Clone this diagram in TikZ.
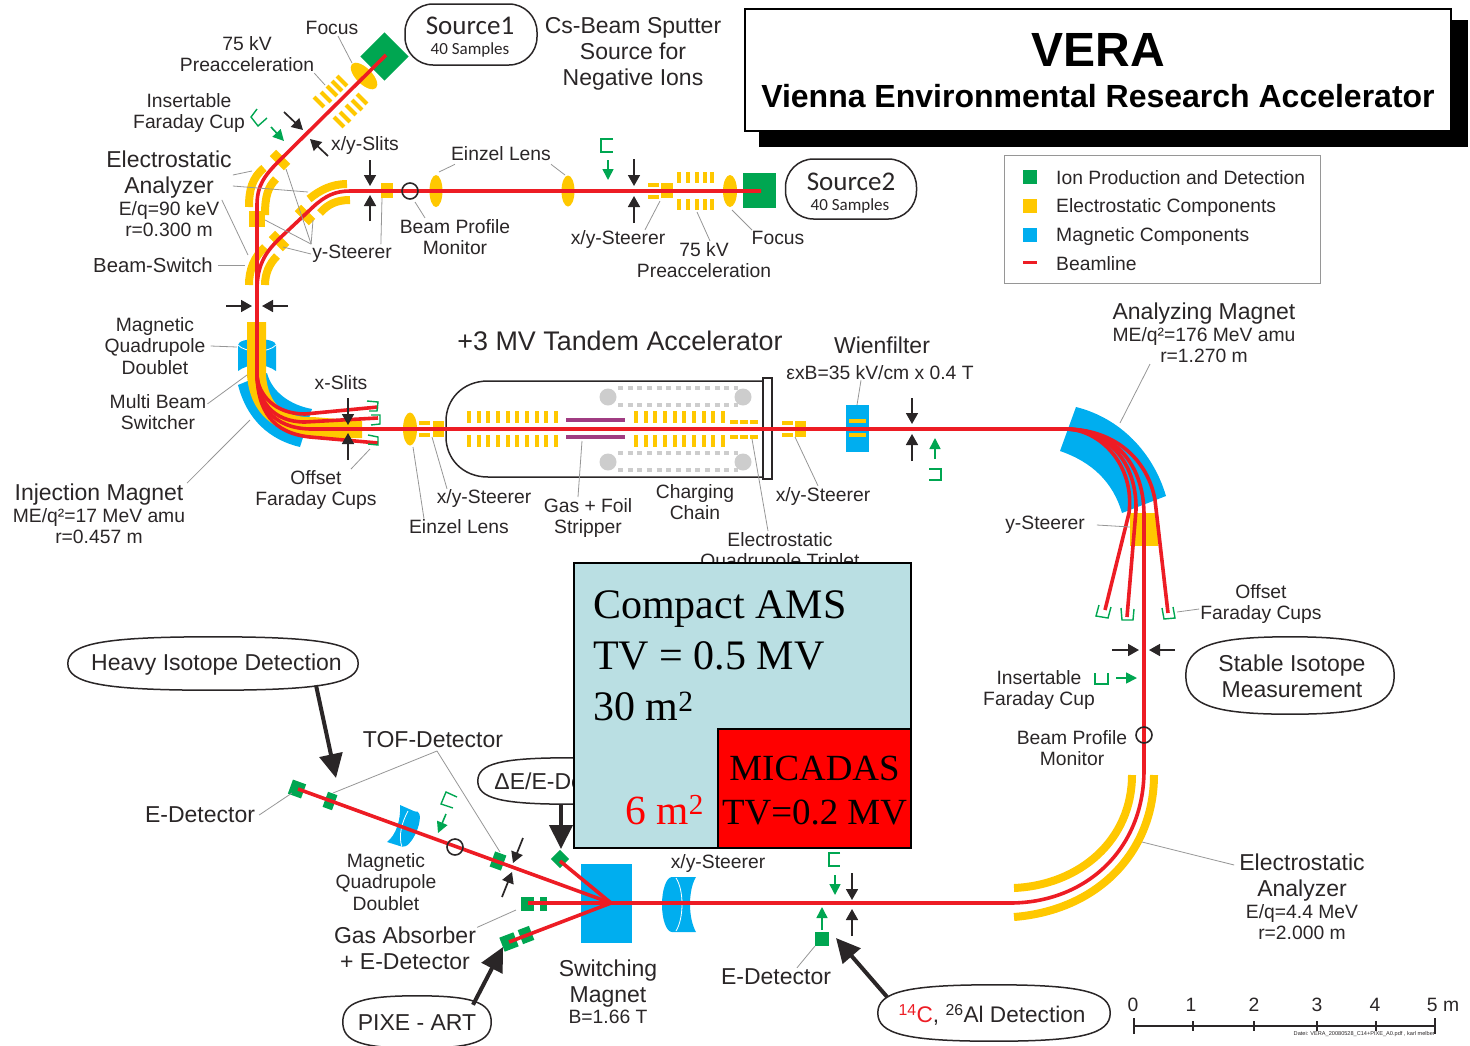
\documentclass[tikz,border=0pt]{standalone}
\usepackage{fontspec}
\setmainfont{Liberation Sans}
\newfontfamily\amsfont{Liberation Serif}
\newfontfamily\srcfont{Carlito}
\usepackage{xcolor}
\usetikzlibrary{shapes.geometric,arrows.meta,positioning,calc}
\definecolor{inkdark}{RGB}{42,38,39}
\definecolor{beamred}{RGB}{237,28,36}
\definecolor{elecyel}{RGB}{255,200,0}
\definecolor{magblue}{RGB}{0,174,239}
\definecolor{detgreen}{RGB}{0,166,81}
\definecolor{strippurple}{RGB}{160,60,130}
\definecolor{chaingray}{RGB}{205,205,205}
\definecolor{leadgray}{RGB}{150,150,150}
\definecolor{amsteal}{RGB}{186,223,227}
\tikzset{
  lab/.style = {font=\fontsize{19.3}{21.6}\selectfont, text=inkdark, align=center, inner sep=1pt},
  biglab/.style = {font=\fontsize{23}{26}\selectfont, text=inkdark, align=center, inner sep=1pt},
  ovalbox/.style = {rectangle, inner sep=0pt},
  ovalline/.style = {draw=inkdark, line width=1.5pt, fill=white},
  srcbox/.style = {rectangle, draw=inkdark, line width=1.5pt, fill=white, rounded corners=28pt, inner sep=0pt},
  srcname/.style = {font=\srcfont\fontsize{27}{27}\selectfont, text=inkdark, inner sep=0pt},
  srcsmall/.style = {font=\srcfont\fontsize{17}{17}\selectfont, text=inkdark, inner sep=0pt},
  leader/.style = {leadgray, line width=0.8pt},
  beam/.style = {beamred, line width=3.6pt},
  ribbon/.style = {elecyel, line width=8pt},
  slit/.style = {inkdark, line width=1.7pt, -{Triangle[length=11pt,width=12pt]}},
  cuparrow/.style = {detgreen, line width=1.6pt, -{Triangle[length=11pt,width=11pt]}},
  bigarrow/.style = {inkdark, line width=4pt, -{Triangle[length=24pt,width=23pt]}},
  cup/.style = {detgreen, line width=1.4pt},
  tank/.style = {inkdark, line width=1.5pt},
  chain/.style = {chaingray, line width=3.4pt, dash pattern=on 5pt off 4.65pt},
  ylens/.style 2 args = {ellipse, fill=elecyel, inner sep=0pt, minimum width=#1, minimum height=#2},
  ybar/.style 2 args = {rectangle, fill=elecyel, inner sep=0pt, minimum width=#1, minimum height=#2},
  gbar/.style 2 args = {rectangle, fill=detgreen, inner sep=0pt, minimum width=#1, minimum height=#2},
  profile/.style = {circle, draw=inkdark, line width=1.6pt, minimum size=16pt, inner sep=0pt}
}
% flattened oval round an empty named box
\newcommand{\ovalround}[1]{
  \draw[ovalline] (#1.west)
    .. controls ($(#1.west)!0.75!(#1.north west)$) and ($(#1.north)!0.75!(#1.north west)$) .. (#1.north)
    .. controls ($(#1.north)!0.75!(#1.north east)$) and ($(#1.east)!0.75!(#1.north east)$) .. (#1.east)
    .. controls ($(#1.east)!0.75!(#1.south east)$) and ($(#1.south)!0.75!(#1.south east)$) .. (#1.south)
    .. controls ($(#1.south)!0.75!(#1.south west)$) and ($(#1.west)!0.75!(#1.south west)$) .. (#1.west) -- cycle;
}
\begin{document}
\begin{tikzpicture}[x=1pt, y=-1pt]
\useasboundingbox (0,0) rectangle (1470,1045);

% title and legend
\fill[black] (759,20) rectangle (1468,147);
\node[rectangle, draw=black, line width=2pt, fill=white, minimum width=706pt, minimum height=122pt,
  inner sep=0pt] (titlebox) at (1098,70) {};
\node[font=\bfseries\fontsize{48}{48}\selectfont, inner sep=0pt] (titleA) at (1098,50) {VERA};
\node[font=\bfseries\fontsize{32}{32}\selectfont, inner sep=0pt] (titleB) at (1098,96) {Vienna Environmental Research Accelerator};

\draw[leadgray, line width=1pt] (1004,155) rectangle (1320,283);
\fill[detgreen] (1023,170) rectangle (1037,184);
\fill[elecyel] (1023,199) rectangle (1037,213);
\fill[magblue] (1023,228) rectangle (1037,242);
\fill[beamred] (1023,261) rectangle (1037,264);
\node[lab, anchor=west, inner sep=0pt] (legA) at (1056,178) {Ion Production and Detection};
\node[lab, anchor=west, inner sep=0pt] (legB) at (1056,208) {Electrostatic Components};
\node[lab, anchor=west, inner sep=0pt] (legC) at (1056,237) {Magnetic Components};
\node[lab, anchor=west, inner sep=0pt] (legD) at (1056,264) {Beamline};

% source 1 branch
\node[gbar={34}{34}, rotate=45] (srcA) at (384.5,56.5) {};
\node[ylens={34}{16}, rotate=-45] (focA) at (364,76) {};
\foreach \xp/\yp [count=\i] in {319/102,326/97,332/91,337/86,342/81}
  \node[ybar={14}{4}, rotate=-45] (pacA\i) at (\xp,\yp) {};
\foreach \xp/\yp [count=\i] in {339/122,345/117,351/110,357/105,362/99}
  \node[ybar={14}{4}, rotate=-45] (pacB\i) at (\xp,\yp) {};
\node[ybar={20}{9}, rotate=-45] (stA) at (280,160) {};
\node[ybar={16}{16}] (stB) at (257,219) {};
\node[ybar={20}{9}, rotate=-45] (stC) at (305,215) {};
\node[ybar={20}{9}, rotate=-45] (stD) at (279,241) {};
\draw[ribbon] (264,168) .. controls (252,178) and (249,190) .. (249,207);
\draw[ribbon] (276,179) .. controls (268,187) and (265,196) .. (265,215);
\draw[ribbon] (265,247) .. controls (254,257) and (249,270) .. (249,285);
\draw[ribbon] (277,256) .. controls (269,264) and (265,274) .. (265,285);
\draw[ribbon] (347,184) .. controls (332,184) and (320,190) .. (309,199);
\draw[ribbon] (350,200) .. controls (337,200) and (328,204) .. (320,213);

% source 2 branch
\node[ybar={12}{15}] (stE) at (387,190) {};
\node[ylens={13}{32}] (einzA) at (436,191) {};
\node[ylens={13}{31}] (einzB) at (568,191) {};
\fill[elecyel] (648,183) rectangle (659,187);
\fill[elecyel] (648,195) rectangle (659,199);
\fill[elecyel] (661,183) rectangle (673,198);
\foreach \xp in {679,688,697,705,712} {
  \fill[elecyel] (\xp-1.8,172) rectangle +(3.6,11);
  \fill[elecyel] (\xp-1.8,199) rectangle +(3.6,11);
}
\node[ylens={14}{32}] (focB) at (730,191) {};
\node[gbar={33}{35}] (srcB) at (759.5,190.5) {};

% injection magnet
\fill[magblue] (238,385) .. controls (247,420) and (270,440) .. (300,447) -- (312,409)
  .. controls (290,405) and (272,392) .. (267,373) -- cycle;
\fill[magblue] (238,345) .. controls (238,337) and (276,337) .. (276,345) -- (276,371)
  .. controls (265,363) and (249,363) .. (238,371) -- cycle;
\draw[white, line width=0.8pt] (238,345) .. controls (245,353) and (269,353) .. (276,345);
\fill[elecyel] (247,322) -- (247,375) .. controls (250,415) and (275,432) .. (313,439) -- (362,438)
  -- (362,421) -- (313,417) .. controls (285,418) and (268,405) .. (266,375) -- (266,322) -- cycle;

% tandem
\draw[tank] (763,381) -- (488,381) .. controls (462,381) and (446,400) .. (446,421) -- (446,437)
  .. controls (446,458) and (462,477) .. (488,477) -- (763,477);
\draw[tank, fill=white] (763,378) rectangle (772,479);
\foreach \yp in {397,462} {
  \fill[chaingray] (608,\yp) circle (8.5);
  \fill[chaingray] (743,\yp) circle (8.5);
}
\foreach \yp in {388,405,453,470}
  \draw[chain] (618,\yp) -- (738,\yp);
\foreach \i in {0,...,9} {
  \fill[elecyel] ({467+9.65*\i},411) rectangle +(4,12);
  \fill[elecyel] ({467+9.65*\i},435) rectangle +(4,12);
  \fill[elecyel] ({634+9.65*\i},411) rectangle +(4,12);
  \fill[elecyel] ({634+9.65*\i},435) rectangle +(4,12);
}
\fill[strippurple] (566,418) rectangle (625,422);
\fill[strippurple] (566,435) rectangle (625,439);
\foreach \xp in {730,740,750} {
  \fill[elecyel] (\xp,420) rectangle +(8,4);
  \fill[elecyel] (\xp,435) rectangle +(8,4);
}
\node[ylens={14}{33}] (einzC) at (410,429) {};
\foreach \xp/\xq in {419/433,782/795} {
  \fill[elecyel] (\xp,421) rectangle +(11,4);
  \fill[elecyel] (\xp,433) rectangle +(11,4);
  \fill[elecyel] (\xq,421) rectangle +(11,16);
}
\fill[magblue] (846,405) rectangle (869,452);
\fill[elecyel] (849,419) rectangle (866,423);
\fill[elecyel] (849,433) rectangle (866,437);

% high energy side
\fill[magblue] (1076,407) .. controls (1120,418) and (1153,452) .. (1166,496) -- (1122,513)
  .. controls (1113,482) and (1092,462) .. (1060,451) -- cycle;
\fill[elecyel] (1130,513) rectangle (1158,546);
\draw[ribbon] (1014,917) .. controls (1100,910) and (1154,850) .. (1154,775);
\draw[ribbon] (1014,888) .. controls (1080,885) and (1132,840) .. (1132,775);

% detector side
\fill[magblue] (672,877) -- (696,877) .. controls (688,890) and (688,918) .. (696,932) -- (672,932) -- cycle;
\node[ellipse, fill=magblue, inner sep=0pt, minimum width=20pt, minimum height=55pt] (quadB) at (672,904.5) {};
\draw[white, line width=0.8pt] (676,878) .. controls (684,890) and (684,918) .. (676,931);
\fill[magblue] (581,864) rectangle (632,943);
\fill[magblue] (400,805) .. controls (401,820) and (396,835) .. (387,842) -- (403,847) -- (416,812) -- cycle;
\node[ellipse, fill=magblue, inner sep=0pt, minimum width=38pt, minimum height=14pt, rotate=67] (quadC) at (410,829) {};
\draw[white, line width=0.8pt] (408,811) .. controls (402,822) and (398,836) .. (402,847);
\node[gbar={14}{15}, rotate=-20] (detA) at (297,789) {};
\node[gbar={10}{16}, rotate=-20] (detB) at (330,801) {};
\node[gbar={12}{16}, rotate=-20] (detC) at (498,861) {};
\node[gbar={13}{13}, rotate=45] (detD) at (560,859) {};
\node[gbar={13}{14}] (detE) at (527.5,904) {};
\node[gbar={7}{14}] (detF) at (543.5,904) {};
\node[gbar={15}{15}, rotate=21] (detG) at (509,942) {};
\node[gbar={12}{15}, rotate=21] (detH) at (526,935) {};
\node[gbar={14}{14}] (detI) at (822,939) {};

% beams
\draw[beam] (386,55) -- (280,160) .. controls (265,175) and (257,185) .. (257,205) -- (257,375);
\draw[beam] (761,191) -- (350,191) .. controls (335,191) and (325,196) .. (313,207) -- (280,238)
  .. controls (268,250) and (257,262) .. (257,290);
\draw[beam] (257,375) .. controls (258,395) and (275,414) .. (305,414) -- (378,407);
\draw[beam] (257,375) .. controls (258,400) and (272,422) .. (305,422) -- (378,418);
\draw[beam] (257,375) .. controls (258,410) and (272,433) .. (310,437) -- (378,443);
\draw[beam] (257,375) .. controls (258,405) and (272,428) .. (310,429) -- (1065,429);
\draw[beam] (1065,429) .. controls (1115,429) and (1148,460) .. (1155,500) -- (1168,613);
\draw[beam] (1065,429) .. controls (1105,429) and (1137,460) .. (1136,510) -- (1127,617);
\draw[beam] (1065,429) .. controls (1100,429) and (1135,465) .. (1129,513) -- (1105,610);
\draw[beam] (1065,429) .. controls (1110,429) and (1144,460) .. (1144,515) -- (1144,770)
  .. controls (1144,850) and (1085,903) .. (1010,903) -- (611,903);
\draw[beam] (298,789) -- (611,903);
\draw[beam] (560,861) -- (611,903);
\draw[beam] (528,903) -- (611,903);
\draw[beam] (509,942) -- (611,903);

% profile monitors
\node[profile] (bpmA) at (410,191) {};
\node[profile] (bpmB) at (1144,735) {};
\node[profile] (bpmC) at (455,847) {};

% slits and cups
\foreach \xa/\ya/\xb/\yb in {284/112/303/130, 328/156/310/139, 370/160/370/186, 370/221/370/195,
    634/159/634/186, 634/223/634/196, 226/306/252/306, 288/306/262/306, 348/398/348/425, 348/460/348/433,
    912/398/912/424, 912/461/912/434, 1112/650/1139/650, 1175/650/1149/650,
    523/838/513/863, 502/897/512/872, 852/873/852/900, 852/936/852/909}
  \draw[slit] (\xa,\ya) -- (\xb,\yb);
\foreach \xa/\ya/\xb/\yb in {271/127/284/141, 608/160/608/180, 935/459/935/438, 1116/678/1137/678,
    446/814/438/833, 835/875/835/895, 822/930/822/907}
  \draw[cuparrow] (\xa,\ya) -- (\xb,\yb);
\draw[cup] (257,109) -- (251,117) -- (258,126) -- (267,118);
\draw[cup] (613,139) -- (601,139) -- (601,152) -- (613,152);
\draw[cup] (367,401) -- (378,402) -- (377,411) -- (369,411);
\draw[cup] (371,415) -- (380,415) -- (380,424) -- (371,425);
\draw[cup] (368,435) -- (378,437) -- (378,445) -- (368,444);
\draw[cup] (929,469) -- (941,469) -- (941,480) -- (929,480);
\draw[cup] (1099,605) -- (1096,616) -- (1108,618) -- (1111,607);
\draw[cup] (1121,608) -- (1122,620) -- (1133,620) -- (1134,609);
\draw[cup] (1162,608) -- (1164,619) -- (1175,618) -- (1173,607);
\draw[cup] (1095,673) -- (1095,684) -- (1108,684) -- (1108,673);
\draw[cup] (457,797) -- (446,792) -- (441,804) -- (453,808);
\draw[cup] (840,853) -- (829,853) -- (829,866) -- (840,866);

% labels, upper part
\node[lab] (lbFocusA) at (332,28) {Focus};
\node[lab] (lbPreA) at (247,54) {75 kV\\ Preacceleration};
\node[lab] (lbCupA) at (189,113) {Insertable\\ Faraday Cup};
\node[biglab] (lbEsaA) at (169,175) {Electrostatic\\ Analyzer};
\node[lab, below=0pt of lbEsaA] (lbEsaB) {E/q=90 keV\\ r=0.300 m};
\node[lab] (lbSlitA) at (365,146) {x/y-Slits};
\node[lab] (lbEinzA) at (501,154) {Einzel Lens};
\node[lab] (lbBpmA) at (455,237) {Beam Profile\\ Monitor};
\node[lab] (lbYA) at (352,254) {y-Steerer};
\node[lab, font=\fontsize{20.3}{22}\selectfont] (lbSwitch) at (153,265) {Beam-Switch};
\node[lab] (lbXYA) at (618,240) {x/y-Steerer};
\node[lab] (lbPreB) at (704,260) {75 kV\\ Preacceleration};
\node[lab] (lbFocusB) at (778,238) {Focus};
\node[biglab] (lbCs) at (633,54) {Cs-Beam Sputter\\ Source for\\ Negative Ions};

% labels, middle part
\node[font=\fontsize{26.9}{26.9}\selectfont, text=inkdark, inner sep=1pt] (lbTandem) at (620,341) {+3 MV Tandem Accelerator};
\node[biglab] (lbWien) at (882,345) {Wienfilter};
\node[lab] (lbWienB) at (880,373) {εxB=35 kV/cm x 0.4 T};
\node[biglab] (lbAnaA) at (1204,314) {Analyzing Magnet};
\node[lab, below=0pt of lbAnaA] (lbAnaB) {ME/q²=176 MeV amu\\ r=1.270 m};
\node[lab] (lbQuadA) at (155,346) {Magnetic\\ Quadrupole\\ Doublet};
\node[lab] (lbMulti) at (158,412) {Multi Beam\\ Switcher};
\node[lab] (lbXSlit) at (341,383) {x-Slits};
\node[lab] (lbOffA) at (316,490) {Offset\\ Faraday Cups};
\node[biglab] (lbInjA) at (99,495) {Injection Magnet};
\node[lab, below=0pt of lbInjA] (lbInjB) {ME/q²=17 MeV amu\\ r=0.457 m};
\node[lab] (lbXYB) at (484,499) {x/y-Steerer};
\node[lab] (lbEinzC) at (459,527) {Einzel Lens};
\node[lab] (lbStrip) at (588,518) {Gas + Foil\\ Stripper};
\node[lab] (lbChain) at (695,502) {Charging\\ Chain};
\node[lab] (lbTrip) at (780,552) {Electrostatic\\ Quadrupole Triplet};
\node[lab] (lbXYC) at (823,496) {x/y-Steerer};
\node[lab] (lbYB) at (1045,525) {y-Steerer};
\node[lab] (lbOffB) at (1261,604) {Offset\\ Faraday Cups};
\node[lab] (lbCupB) at (1039,690) {Insertable\\ Faraday Cup};
\node[lab] (lbBpmB) at (1072,748) {Beam Profile\\ Monitor};

% labels, lower part
\node[biglab] (lbEDetA) at (200,815) {E-Detector};
\node[biglab] (lbTof) at (433,740) {TOF-Detector};
\node[lab] (lbQuadB) at (386,882) {Magnetic\\ Quadrupole\\ Doublet};
\node[biglab] (lbGas) at (405,948) {Gas Absorber\\ + E-Detector};
\node[biglab] (lbSwM) at (608,984) {Switching\\ Magnet};
\node[lab, below=0pt of lbSwM] (lbSwB) {B=1.66 T};
\node[lab] (lbXYD) at (718,863) {x/y-Steerer};
\node[biglab] (lbEDetB) at (776,977) {E-Detector};
\node[biglab] (lbEsaC) at (1302,878) {Electrostatic\\ Analyzer};
\node[lab, below=0pt of lbEsaC] (lbEsaD) {E/q=4.4 MeV\\ r=2.000 m};

% sources and ovals
\node[srcbox, minimum width=132pt, minimum height=61pt] (ovSrcA) at (471,34.5) {};
\node[srcname] (txSrcA) at (470,26) {Source1};
\node[srcsmall] (txSmpA) at (470,50) {40 Samples};
\node[srcbox, minimum width=131pt, minimum height=60pt] (ovSrcB) at (851,189) {};
\node[srcname] (txSrcB) at (851,182) {Source2};
\node[srcsmall] (txSmpB) at (850,206) {40 Samples};
\node[ovalbox, minimum width=290pt, minimum height=53pt] (ovHeavy) at (213,663.5) {};
\ovalround{ovHeavy}
\node[biglab] (txHeavy) at (216.5,665) {Heavy Isotope Detection};
\node[ovalbox, minimum width=208pt, minimum height=77pt] (ovStable) at (1290,675.5) {};
\ovalround{ovStable}
\node[biglab] (txStable) at (1292,676) {Stable Isotope\\ Measurement};
\node[ovalbox, minimum width=232pt, minimum height=56pt] (ovCarbon) at (994,1013) {};
\ovalround{ovCarbon}
\node[biglab, font=\fontsize{22.6}{26}\selectfont] (txCarbon) at (992,1015) {\textcolor{beamred}{\textsuperscript{14}C}, \textsuperscript{26}Al Detection};
\node[ovalbox, minimum width=148pt, minimum height=52pt] (ovPixe) at (417,1022) {};
\ovalround{ovPixe}
\node[biglab] (txPixe) at (417,1023) {PIXE - ART};
\node[ovalbox, minimum width=184pt, minimum height=46pt] (ovDelta) at (570,781) {};
\ovalround{ovDelta}
\node[biglab] (txDelta) at (568,781) {ΔE/E-Detector};

% leader ends
\coordinate (tFocA) at (352,63);
\coordinate (tPacA) at (325,85);
\coordinate (tEsaA) at (252,171);
\coordinate (tEsaB) at (308,192);
\coordinate (tEsaC) at (248,255);
\coordinate (tSwitch) at (245,265);
\coordinate (tYA) at (286,169);
\coordinate (tYB) at (265,220);
\coordinate (tYC) at (283,247);
\coordinate (tYD) at (313,220);
\coordinate (tYE) at (382,198);
\coordinate (tBpmA) at (415,202);
\coordinate (tEinzA) at (439,172);
\coordinate (tEinzB) at (565,175);
\coordinate (tXYA) at (660,201);
\coordinate (tPacB) at (697,212);
\coordinate (tFocB) at (732,210);
\coordinate (tQuadA) at (237,347);
\coordinate (tMulti) at (247,375);
\coordinate (tInj) at (250,420);
\coordinate (tOffA) at (370,449);
\coordinate (tEinzC) at (413,447);
\coordinate (tXYB) at (432,437);
\coordinate (tStrip) at (582,441);
\coordinate (tTrip) at (752,439);
\coordinate (tXYC) at (795,437);
\coordinate (tWien) at (857,405);
\coordinate (tAna) at (1120,423);
\coordinate (tYS) at (1130,527);
\coordinate (tOffB) at (1177,612);
\coordinate (tTofTop) at (437,751);
\coordinate (tTofA) at (333,793);
\coordinate (tTofB) at (500,852);
\coordinate (tEDetA) at (292,793);
\coordinate (tGas) at (516,910);
\coordinate (tEDetB) at (815,946);
\coordinate (tEsaE) at (1142,842);
% big arrow ends
\coordinate (tipHeavy) at (336,778);
\coordinate (tipDelta) at (561,849);
\coordinate (tipPixe) at (503,947);
\coordinate (tipCarbon) at (836,938);

\draw[leader] ([xshift=6pt]lbFocusA.south) -- (tFocA);
\draw[leader] ([xshift=-1pt]lbPreA.south east) -- (tPacA);
\draw[leader] (lbEsaA.east) -- (tEsaA);
\draw[leader] ([yshift=-11pt]lbEsaA.east) -- (tEsaB);
\draw[leader] ([xshift=-11pt]lbEsaA.south east) -- (tEsaC);
\draw[leader] ([xshift=4pt]lbSwitch.east) -- (tSwitch);
\draw[leader] (lbYA.north west) -- (tYA);
\draw[leader] (lbYA.north west) -- (tYB);
\draw[leader] (lbYA.west) -- (tYC);
\draw[leader] (lbYA.north west) -- (tYD);
\draw[leader] ([xshift=-12pt]lbYA.north east) -- (tYE);
\draw[leader] ([xshift=-30pt]lbBpmA.north) -- (tBpmA);
\draw[leader] ([xshift=-46pt,yshift=-2pt]lbEinzA.south) -- (tEinzA);
\draw[leader] ([xshift=50pt,yshift=-2pt]lbEinzA.south) -- (tEinzB);
\draw[leader] ([xshift=27pt]lbXYA.north) -- (tXYA);
\draw[leader] ([xshift=6pt]lbPreB.north) -- (tPacB);
\draw[leader] ([xshift=-26pt]lbFocusB.north) -- (tFocB);
\draw[leader] ([xshift=4pt]lbQuadA.east) -- (tQuadA);
\draw[leader] ([yshift=-11pt]lbMulti.north east) -- (tMulti);
\draw[leader] ([xshift=88pt]lbInjA.north) -- (tInj);
\draw[leader] ([xshift=35pt]lbOffA.north) -- (tOffA);
\draw[leader] ([xshift=-35pt]lbEinzC.north) -- (tEinzC);
\draw[leader] ([xshift=-37pt]lbXYB.north) -- (tXYB);
\draw[leader] ([xshift=-10pt]lbStrip.north) -- (tStrip);
\draw[leader] ([xshift=-12pt]lbTrip.north) -- (tTrip);
\draw[leader] ([xshift=-5pt]lbXYC.north) -- (tXYC);
\draw[leader] ([xshift=-19pt,yshift=1pt]lbWienB.south) -- (tWien);
\draw[leader] ([xshift=-54pt]lbAnaB.south) -- (tAna);
\draw[leader] ([xshift=11pt]lbYB.east) -- (tYS);
\draw[leader] ([yshift=-5pt]lbOffB.west) -- (tOffB);
\draw[leader] (tTofA) -- (tTofTop) -- (tTofB);
\draw[leader] ([xshift=3pt]lbEDetA.east) -- (tEDetA);
\draw[leader] ([yshift=-2pt]lbGas.north east) -- (tGas);
\draw[leader] ([xshift=21pt]lbEDetB.north) -- (tEDetB);
\draw[leader] ([yshift=13pt,xshift=-4pt]lbEsaC.west) -- (tEsaE);

\draw[bigarrow] ([xshift=103pt,yshift=5pt]ovHeavy.south) -- (tipHeavy);
\draw[bigarrow] ([xshift=-9pt]ovDelta.south) -- (tipDelta);
\draw[bigarrow] ([xshift=56pt,yshift=-9pt]ovPixe.north) -- (tipPixe);
\draw[bigarrow] ([xshift=-107pt,yshift=-12pt]ovCarbon.north) -- (tipCarbon);

% compact ams overlay
\node[rectangle, draw=black, line width=2pt, fill=amsteal, minimum width=337pt, minimum height=285pt,
  inner sep=0pt] (amsBox) at (742.5,705.5) {};
\node[rectangle, draw=black, line width=2pt, fill=red, minimum width=193pt, minimum height=119pt,
  inner sep=0pt] (micBox) at (814.5,788.5) {};
\node[font=\amsfont\fontsize{42}{51}\selectfont, align=left, inner sep=0pt, anchor=west] (amsTxt) at (593,656) {Compact AMS\\ TV = 0.5 MV\\ 30 m\textsuperscript{2}};
\node[font=\amsfont\fontsize{41.5}{41.5}\selectfont, text=red, inner sep=0pt, anchor=base east] (amsArea) at (704,824) {6 m\textsuperscript{2}};
\node[font=\amsfont\fontsize{36.9}{44}\selectfont, align=center, inner sep=0pt] (micTxt) at (814.5,791) {MICADAS\\ TV=0.2 MV};

% scale bar
\draw[inkdark, line width=2pt] (1134,1026) -- (1435,1026);
\foreach \xp in {1134,1435}
  \draw[inkdark, line width=1.6pt] (\xp,1018) -- (\xp,1034);
\foreach \xp in {1193,1254,1317,1376}
  \draw[inkdark, line width=1.4pt] (\xp,1021) -- (\xp,1031);
\foreach \xp/\lbl [count=\i] in {1133/0,1191/1,1254/2,1317/3,1375/4,1443/5 m}
  \node[lab] (scale\i) at (\xp,1005) {\lbl};
\node[font=\fontsize{5.6}{6}\selectfont, text=inkdark, inner sep=0pt, anchor=east] (stamp) at (1435,1034) {Datei: VERA\_20080528\_C14+PIXE\_A0.pdf , karl melber};

\end{tikzpicture}
\end{document}
